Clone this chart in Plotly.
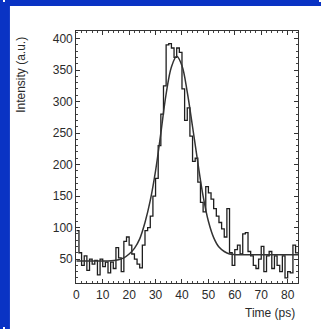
import plotly.graph_objects as go

# Measured histogram (1 ps bins, left edges)
time_bins = list(range(0, 85))
intensity = [95, 60, 40, 55, 32, 50, 42, 48, 25, 50,
             38, 45, 28, 45, 35, 68, 52, 30, 78, 85,
             72, 58, 50, 42, 36, 72, 95, 100, 118, 150,
             178, 230, 280, 325, 390, 392, 385, 370, 385, 378,
             320, 270, 290, 245, 205, 210, 172, 140, 125, 165,
             155, 145, 130, 118, 108, 98, 85, 130, 60, 40,
             65, 72, 58, 90, 92, 62, 55, 40, 35, 50,
             70, 30, 55, 62, 35, 55, 40, 30, 55, 20,
             30, 28, 72, 60]
intensity_steps = intensity + [intensity[-1]]

# Fit curve
fit_t = [0, 4, 8, 12, 16, 18, 20, 22, 24, 26, 28, 30, 32, 34, 36, 38,
         40, 42, 44, 46, 48, 50, 52, 54, 56, 58, 60, 65, 70, 75, 80, 84]
fit_y = [47, 47, 47, 47, 49, 52, 58, 67, 82, 108, 143, 190, 250, 312, 355, 372,
         357, 315, 260, 203, 150, 110, 84, 69, 62, 58, 57, 57, 57, 57, 57, 57]

x_ticks = [0, 10, 20, 30, 40, 50, 60, 70, 80]
y_ticks = [50, 100, 150, 200, 250, 300, 350, 400]

W, H = 321, 329
PL, PR, PT, PB = 74, 298, 31, 283   # plot-area pixel box
BLUE = "#0a33c4"

fig = go.Figure()
# white panel subplot (x/y)
fig.add_trace(go.Scatter(x=[None], y=[None], xaxis="x", yaxis="y",
                         mode="lines", showlegend=False, hoverinfo="skip"))
# data subplot (x2/y2)
fig.add_trace(go.Scatter(x=time_bins, y=intensity_steps, mode="lines",
                         xaxis="x2", yaxis="y2",
                         line=dict(color="#1e1e1e", width=1.3, shape="hv"),
                         showlegend=False))
fig.add_trace(go.Scatter(x=fit_t, y=fit_y, mode="lines",
                         xaxis="x2", yaxis="y2",
                         line=dict(color="#333333", width=1.5, shape="spline", smoothing=1.0),
                         showlegend=False))
# tiny white corner patches (x3/y3, x4/y4, x5/y5)
for ax in ("3", "4", "5"):
    fig.add_trace(go.Scatter(x=[None], y=[None], xaxis="x" + ax, yaxis="y" + ax,
                             mode="lines", showlegend=False, hoverinfo="skip"))

axis_font = dict(family="Liberation Sans, Arial, sans-serif", size=12, color="#2a2a2a")
hidden = dict(visible=False, range=[0, 1], fixedrange=True)

fig.update_layout(
    xaxis=dict(domain=[7 / W, 1], anchor="y", **hidden),
    yaxis=dict(domain=[0, (H - 6) / H], anchor="x", **hidden),
    xaxis2=dict(domain=[PL / W, PR / W], anchor="y2",
                range=[0, 84], tickvals=x_ticks, ticks="inside", ticklen=4,
                tickcolor="#333333", showline=True, linecolor="#333333", linewidth=1.2,
                mirror="ticks", showgrid=False, zeroline=False, tickfont=axis_font,
                minor=dict(dtick=2, ticks="inside", ticklen=2, tickcolor="#444444", showgrid=False)),
    yaxis2=dict(domain=[(H - PB) / H, (H - PT) / H], anchor="x2",
                range=[12, 412], tickvals=y_ticks, ticks="inside", ticklen=4,
                tickcolor="#333333", showline=True, linecolor="#333333", linewidth=1.2,
                mirror="ticks", showgrid=False, zeroline=False, tickfont=axis_font,
                minor=dict(dtick=10, tick0=0, ticks="inside", ticklen=2, tickcolor="#444444", showgrid=False)),
    xaxis3=dict(domain=[0, 2 / W], anchor="y3", **hidden),
    yaxis3=dict(domain=[(H - 2) / H, 1], anchor="x3", **hidden),
    xaxis4=dict(domain=[(W - 2) / W, 1], anchor="y4", **hidden),
    yaxis4=dict(domain=[(H - 2) / H, 1], anchor="x4", **hidden),
    xaxis5=dict(domain=[0, 2 / W], anchor="y5", **hidden),
    yaxis5=dict(domain=[0, 2 / H], anchor="x5", **hidden),
    width=W, height=H, margin=dict(l=0, r=0, t=0, b=0),
    paper_bgcolor=BLUE, plot_bgcolor="white",
)

fig.add_annotation(text="Time (ps)", xref="paper", yref="paper",
                   x=297 / W, y=(H - 313) / H, xanchor="right", yanchor="middle",
                   showarrow=False, font=axis_font)
fig.add_annotation(text="Intensity (a.u.)", xref="paper", yref="paper",
                   x=18 / W, y=(H - 75) / H, xanchor="center", yanchor="middle",
                   textangle=-90, showarrow=False, font=axis_font)

fig.write_html("out.html")
